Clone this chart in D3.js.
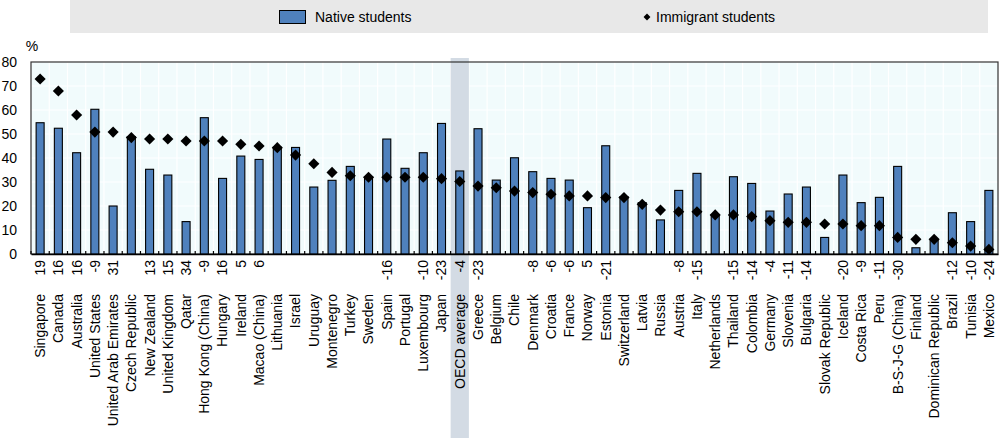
<!DOCTYPE html>
<html>
<head>
<meta charset="utf-8">
<script src="https://cdn.jsdelivr.net/npm/d3@7"></script>
<style>
  html, body { margin: 0; padding: 0; background: #ffffff; }
  svg { display: block; }
  text { font-family: "Liberation Sans", Arial, sans-serif; fill: #000; }
</style>
</head>
<body>
<svg id="chart" width="1000" height="438"></svg>
<script>
const categories = ["Singapore","Canada","Australia","United States","United Arab Emirates","Czech Republic","New Zealand","United Kingdom","Qatar","Hong Kong (China)","Hungary","Ireland","Macao (China)","Lithuania","Israel","Uruguay","Montenegro","Turkey","Sweden","Spain","Portugal","Luxembourg","Japan","OECD average","Greece","Belgium","Chile","Denmark","Croatia","France","Norway","Estonia","Switzerland","Latvia","Russia","Austria","Italy","Netherlands","Thailand","Colombia","Germany","Slovenia","Bulgaria","Slovak Republic","Iceland","Costa Rica","Peru","B-S-J-G (China)","Finland","Dominican Republic","Brazil","Tunisia","Mexico"];

const nativeStudents = [54.7,52.4,42.2,60.3,20.0,48.9,35.3,32.9,13.5,56.8,31.5,40.8,39.4,44.5,44.4,27.9,30.7,36.5,32.2,47.9,35.7,42.2,54.4,34.6,52.2,30.8,40.1,34.3,31.5,30.8,19.3,45.1,23.9,21.4,14.2,26.5,33.6,16.2,32.2,29.4,17.9,25.0,27.9,6.9,32.9,21.4,23.6,36.5,2.6,5.8,17.2,13.5,26.5];

const immigrantStudents = [72.9,67.9,57.9,50.8,50.8,48.5,47.9,47.9,47.1,47.1,47.1,45.7,45.0,44.3,41.2,37.6,34.0,32.6,32.0,32.0,32.0,32.0,31.4,30.2,28.3,27.6,26.2,25.6,24.9,24.2,24.2,23.5,23.5,20.7,18.3,17.6,17.6,16.3,16.3,15.6,13.9,13.2,13.2,12.5,12.5,11.8,11.8,6.9,6.1,6.1,4.7,3.3,1.9];

const differenceLabels = ["19","16","16","-9","31","","13","15","34","-9","16","5","6","","","","","","","-16","","-10","-23","-4","-23","","","-8","-6","-6","5","-21","","","","-8","-15","","-15","-14","-4","-11","-14","","-20","-9","-11","-30","","","-12","-10","-24"];

const yTicks = [0,10,20,30,40,50,60,70,80];
const highlightCategory = "OECD average";
const seriesNames = ["Native students","Immigrant students"];

const svg = d3.select("#chart");
const W = 1000, H = 438;
const m = {left: 31, right: 2, top: 62, bottom: 184};
const plotW = W - m.left - m.right;
const plotBottom = H - m.bottom;

const x = d3.scaleBand().domain(categories).range([m.left, W - m.right]).paddingInner(0).paddingOuter(0);
const y = d3.scaleLinear().domain([0, 80]).range([plotBottom, m.top]);

const barColor = "#4f81bd";

// Legend
svg.append("rect").attr("x", 70).attr("y", 0).attr("width", 918).attr("height", 33).attr("fill", "#e8e8e8");
const lg = svg.append("g");
lg.append("rect").attr("x", 279.5).attr("y", 10.5).attr("width", 26).attr("height", 13)
  .attr("fill", barColor).attr("stroke", "#000").attr("stroke-width", 1);
lg.append("text").attr("x", 315).attr("y", 17).attr("dy", "0.35em").style("font-size", "14px").text(seriesNames[0]);
lg.append("path").attr("d", d3.symbol().type(d3.symbolSquare).size(24)())
  .attr("transform", "translate(647,17) rotate(45) scale(1,1)").attr("fill", "#000");
lg.append("text").attr("x", 656).attr("y", 17).attr("dy", "0.35em").style("font-size", "14px").text(seriesNames[1]);

// Plot background
svg.append("rect").attr("x", m.left).attr("y", m.top).attr("width", plotW).attr("height", plotBottom - m.top)
  .attr("fill", "#f1fbfc");

// Gridlines
svg.append("g").selectAll("line").data(yTicks).join("line")
  .attr("x1", m.left).attr("x2", W - m.right)
  .attr("y1", d => y(d)).attr("y2", d => y(d))
  .attr("stroke", "#ffffff").attr("stroke-width", 1.2);
svg.append("g").selectAll("line").data(categories).join("line")
  .attr("x1", d => x(d)).attr("x2", d => x(d))
  .attr("y1", m.top).attr("y2", plotBottom)
  .attr("stroke", "#ffffff").attr("stroke-width", 1.2);

// Highlight OECD
svg.append("rect").attr("x", x(highlightCategory)).attr("y", 58)
  .attr("width", x.bandwidth()).attr("height", H - 58).attr("fill", "#d3dbe4");

// Frame
svg.append("rect").attr("x", m.left).attr("y", m.top).attr("width", plotW).attr("height", plotBottom - m.top)
  .attr("fill", "none").attr("stroke", "#333").attr("stroke-width", 1.2);

// Bars
const barW = 8;
svg.append("g").selectAll("rect").data(categories).join("rect")
  .attr("x", d => x(d) + x.bandwidth() / 2 - barW / 2)
  .attr("y", (d, i) => y(nativeStudents[i]))
  .attr("width", barW)
  .attr("height", (d, i) => y(0) - y(nativeStudents[i]))
  .attr("fill", barColor).attr("stroke", "#000").attr("stroke-width", 1.1);

// Diamonds
const diamond = d3.symbol().type(d3.symbolSquare).size(62)();
svg.append("g").selectAll("path").data(categories).join("path")
  .attr("d", diamond)
  .attr("transform", (d, i) => `translate(${x(d) + x.bandwidth() / 2},${y(immigrantStudents[i])}) rotate(45)`)
  .attr("fill", "#000");

// X axis
const xAxis = d3.axisBottom(x).tickSizeInner(-3).tickSizeOuter(0).tickFormat("");
const xg = svg.append("g").attr("transform", `translate(0,${plotBottom})`).call(xAxis);
xg.select(".domain").attr("stroke", "#000").attr("stroke-width", 1.5);
xg.selectAll(".tick line").attr("stroke", "#000").attr("stroke-width", 1.2)
  .attr("transform", `translate(${-x.bandwidth() / 2},0)`);

// Category labels
svg.append("g").selectAll("text").data(categories).join("text")
  .attr("transform", d => `translate(${x(d) + x.bandwidth() / 2},294) rotate(-90)`)
  .attr("dy", "0.35em")
  .attr("text-anchor", "end")
  .style("font-size", "14px")
  .text(d => d);

// Difference labels
svg.append("g").selectAll("text").data(categories).join("text")
  .attr("transform", d => `translate(${x(d) + x.bandwidth() / 2},260) rotate(-90)`)
  .attr("dy", "0.35em")
  .attr("text-anchor", "end")
  .style("font-size", "14px")
  .text((d, i) => differenceLabels[i]);

// Y axis labels
const yAxis = d3.axisLeft(y).tickValues(yTicks).tickSize(0).tickPadding(14);
const yg = svg.append("g").attr("transform", `translate(${m.left},0)`).call(yAxis);
yg.select(".domain").remove();
yg.selectAll("text").style("font-size", "14px").style("font-family", "'Liberation Sans', Arial, sans-serif").attr("fill", "#000");

svg.append("text").attr("x", 32).attr("y", 46).attr("dy", "0.35em").attr("text-anchor", "middle")
  .style("font-size", "14px").text("%");
</script>
</body>
</html>
